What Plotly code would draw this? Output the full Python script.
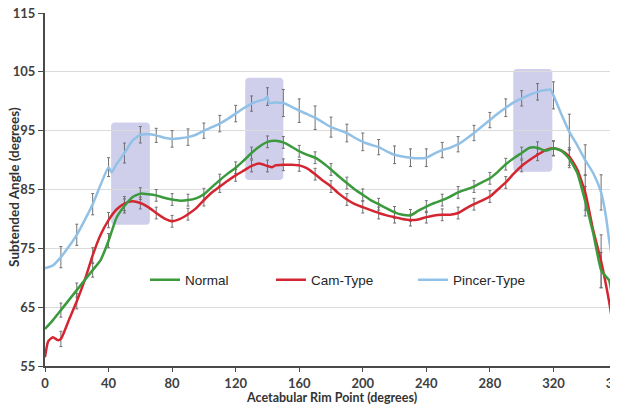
import plotly.graph_objects as go

# ---------------- data ----------------
pincer_x = [0, 5, 10, 15, 20, 25, 30, 35, 40, 42, 45, 50, 55, 60, 65, 70, 75, 80, 85, 90,
            95, 100, 105, 110, 115, 120, 125, 130, 135, 138, 140, 141, 145, 150, 155, 160,
            165, 170, 175, 180, 185, 190, 195, 200, 205, 210, 215, 220, 225, 230, 235, 240,
            245, 250, 255, 260, 265, 270, 275, 280, 285, 290, 295, 300, 305, 310, 315, 318,
            320, 325, 330, 335, 340, 345, 350, 353, 355, 357, 360]
pincer_y = [71.6, 72.1, 73.5, 75.3, 77.3, 79.8, 82.5, 85.8, 88.8, 87.9, 89.3, 91.2, 93.3, 94.3,
            94.4, 94.2, 93.8, 93.6, 93.7, 93.9, 94.3, 95.0, 95.6, 96.2, 97.0, 97.9, 98.8, 99.6,
            100.1, 100.3, 100.8, 99.7, 99.8, 99.7, 99.1, 98.4, 97.8, 97.2, 96.4, 95.6, 95.1,
            94.6, 93.8, 93.1, 92.6, 92.2, 91.5, 90.9, 90.6, 90.4, 90.3, 90.4, 91.1, 91.7, 92.1,
            92.7, 93.6, 94.6, 95.7, 96.8, 97.9, 98.9, 99.8, 100.5, 101.1, 101.6, 101.9, 102.0,
            101.0, 97.8, 94.8, 92.5, 90.0, 87.8, 84.5, 80.5, 76.5, 73.5, 72.5]

normal_x = [0, 5, 10, 15, 20, 25, 30, 35, 40, 45, 50, 55, 60, 65, 70, 75, 80, 85, 90, 95, 100,
            105, 110, 115, 120, 125, 130, 135, 140, 145, 150, 155, 160, 165, 170, 175, 180,
            185, 190, 195, 200, 205, 210, 215, 220, 225, 230, 235, 240, 245, 250, 255, 260,
            265, 270, 275, 280, 285, 290, 295, 300, 305, 310, 315, 320, 325, 330, 335, 340,
            345, 350, 353, 355, 357, 360]
normal_y = [61.3, 62.8, 64.5, 66.2, 67.9, 69.6, 71.3, 73.0, 76.3, 80.2, 82.2, 83.7, 84.3, 84.2,
            84.0, 83.6, 83.3, 83.1, 83.2, 83.5, 84.2, 85.4, 86.6, 87.7, 88.7, 89.9, 91.2, 92.3,
            93.1, 93.3, 93.0, 92.3, 91.5, 90.9, 90.4, 89.5, 88.4, 87.2, 86.1, 85.0, 84.1, 83.2,
            82.5, 81.8, 81.1, 80.7, 80.6, 81.4, 82.1, 82.7, 83.2, 83.8, 84.5, 85.0, 85.5, 86.2,
            86.9, 88.0, 89.3, 90.3, 91.2, 92.1, 92.1, 91.6, 92.0, 91.6, 90.2, 87.8, 83.0, 77.6,
            71.3, 70.2, 69.6, 66.9, 63.7]

cam_x = [0, 2, 5, 8, 10, 15, 20, 25, 30, 35, 40, 45, 50, 55, 60, 65, 70, 75, 80, 85, 90, 95,
         100, 105, 110, 115, 120, 125, 130, 135, 140, 143, 145, 150, 155, 160, 165, 170, 175,
         180, 185, 190, 195, 200, 205, 210, 215, 220, 225, 230, 235, 240, 245, 250, 255, 260,
         265, 270, 275, 280, 285, 290, 295, 300, 305, 310, 315, 320, 325, 330, 335, 340, 345,
         350, 355, 358, 360]
cam_y = [56.5, 59.2, 59.9, 59.4, 59.6, 62.8, 66.0, 69.6, 73.8, 77.3, 79.8, 81.6, 82.6, 83.0,
         82.7, 82.0, 81.0, 80.1, 79.6, 80.0, 80.8, 81.8, 83.2, 84.5, 85.5, 86.5, 87.4, 88.2,
         89.0, 89.4, 89.0, 88.8, 89.1, 89.2, 89.2, 89.1, 88.6, 87.6, 86.5, 85.5, 84.3, 83.3,
         82.5, 82.0, 81.5, 81.0, 80.6, 80.3, 80.0, 79.8, 79.9, 80.3, 80.6, 80.7, 80.7, 81.0,
         81.8, 82.5, 83.1, 83.8, 85.0, 86.2, 87.7, 89.0, 90.0, 90.9, 91.7, 92.0, 91.6, 90.6,
         88.4, 84.5, 78.1, 72.8, 66.0, 61.0, 58.9]

err_x = [10, 20, 30, 40, 50, 60, 70, 80, 90, 100, 110, 120, 130, 140, 150, 160, 170, 180,
         190, 200, 210, 220, 230, 240, 250, 260, 270, 280, 290, 300, 310, 320, 330, 340, 350, 360]
pincer_err = [1.8, 1.8, 1.8, 1.6, 1.7, 1.4, 1.2, 1.4, 1.4, 1.3, 1.4, 1.4, 1.3, 1.5, 2.3, 2.0,
              2.0, 1.7, 1.5, 1.5, 1.3, 1.5, 1.5, 1.5, 1.3, 1.3, 1.3, 1.3, 1.5, 1.3, 1.4, 2.3,
              3.0, 2.6, 3.0, 2.5]
normal_err = [1.2, 1.2, 1.2, 1.2, 1.2, 1.0, 1.0, 1.0, 1.0, 1.0, 1.0, 1.0, 1.0, 1.0, 1.0, 1.0,
              1.0, 1.0, 1.0, 1.0, 1.0, 1.0, 1.0, 1.0, 1.0, 1.0, 1.0, 1.0, 1.0, 1.0, 1.0, 1.2,
              1.5, 2.5, 3.0, 2.0]
cam_err = [1.3, 1.3, 1.3, 1.3, 1.2, 1.0, 1.0, 1.0, 1.0, 1.0, 1.0, 1.0, 1.0, 1.0, 1.0, 1.0,
           1.0, 1.0, 1.0, 1.0, 1.0, 1.0, 1.0, 1.0, 1.0, 1.0, 1.0, 1.0, 1.0, 1.0, 1.0, 1.3,
           1.5, 3.0, 4.5, 3.0]

# highlighted regions: (x0, x1, y0, y1)
regions = [(41.6, 66.0, 79.0, 96.4), (126.0, 150.0, 86.6, 104.0), (294.7, 319.3, 88.0, 105.5)]

x_ticks = [0, 40, 80, 120, 160, 200, 240, 280, 320, 360]
y_ticks = [55, 65, 75, 85, 95, 105, 115]

x_title = "Acetabular Rim Point (degrees)"
y_title = "Subtended Angle (degrees)"

# ---------------- styles ----------------
GREEN = "#3a9a3c"
RED = "#d42630"
BLUE = "#91c1e6"
ERRC = "#707070"

series = [
    ("Normal", normal_x, normal_y, normal_err, GREEN, "legend"),
    ("Cam-Type", cam_x, cam_y, cam_err, RED, "legend2"),
    ("Pincer-Type", pincer_x, pincer_y, pincer_err, BLUE, "legend3"),
]

fig = go.Figure()

for name, xs, ys, errs, color, lg in series:
    lookup = dict(zip(xs, ys))
    fig.add_trace(go.Scatter(
        x=err_x, y=[lookup[v] for v in err_x], mode="markers",
        marker=dict(size=1, opacity=0), showlegend=False, hoverinfo="skip",
        error_y=dict(type="data", array=errs, visible=True, color=ERRC, thickness=1, width=1.5),
    ))

for name, xs, ys, errs, color, lg in reversed(series):
    fig.add_trace(go.Scatter(
        x=xs, y=ys, mode="lines", name=name, legend=lg,
        line=dict(color=color, width=2.5, shape="spline", smoothing=0.5),
    ))

rx, ry = 2.5, 0.7
for x0, x1, y0, y1 in regions:
    path = (f"M {x0+rx},{y0} L {x1-rx},{y0} Q {x1},{y0} {x1},{y0+ry} "
            f"L {x1},{y1-ry} Q {x1},{y1} {x1-rx},{y1} L {x0+rx},{y1} "
            f"Q {x0},{y1} {x0},{y1-ry} L {x0},{y0+ry} Q {x0},{y0} {x0+rx},{y0} Z")
    fig.add_shape(type="path", path=path, xref="x", yref="y", layer="below",
                  fillcolor="rgba(130,130,205,0.38)", line=dict(width=0))

fig.add_shape(type="line", xref="paper", yref="paper", x0=1, x1=1, y0=0, y1=1,
              line=dict(color="#d0d0d0", width=1))

TITLEFONT = dict(family="Lato, Open Sans, sans-serif", color="#333333", weight="bold")
fig.add_annotation(text=x_title, xref="paper", yref="paper", x=0.5, y=0, xanchor="center",
                   yanchor="middle", yshift=-31, showarrow=False, font=dict(TITLEFONT, size=12.5))
fig.add_annotation(text=y_title, xref="paper", yref="paper", x=0, y=0.506, xanchor="center",
                   yanchor="middle", xshift=-30.5, textangle=-90, showarrow=False,
                   font=dict(TITLEFONT, size=13.5))

legend_font = dict(family="Arial, Liberation Sans", size=13.5, color="#262626")
def leg(xpx):
    return dict(orientation="h", x=(xpx - 45) / 572, xanchor="left",
                y=(366 - 280) / 353, yanchor="middle", bgcolor="rgba(0,0,0,0)",
                font=legend_font, itemwidth=30)

TICKFONT = dict(family="Lato, Open Sans, sans-serif", size=13, color="#404040", weight="bold")

# the page body adds an 8px offset, so the figure is sized to fill the rest of the window
fig.update_layout(
    width=610, height=399,
    margin=dict(l=37, r=1, t=5, b=41, autoexpand=False),
    paper_bgcolor="white", plot_bgcolor="white",
    showlegend=True,
    legend=leg(145), legend2=leg(271), legend3=leg(413),
    xaxis=dict(range=[0, 360], tickvals=x_ticks, ticktext=[str(v) for v in x_ticks],
               automargin=False, ticklabeloverflow="allow",
               showgrid=False, zeroline=False, showline=True, linecolor="#4a4a4a", linewidth=2,
               ticks="outside", ticklen=4, tickcolor="#4a4a4a", tickfont=TICKFONT),
    yaxis=dict(range=[55, 115], tickvals=y_ticks, ticktext=[str(v) for v in y_ticks],
               automargin=False, ticklabeloverflow="allow",
               showgrid=True, gridcolor="#dcdcdc", gridwidth=1, zeroline=False,
               showline=True, linecolor="#4a4a4a", linewidth=2,
               ticks="outside", ticklen=5, tickcolor="#4a4a4a", tickfont=TICKFONT),
)

fig.write_html("out.html")
